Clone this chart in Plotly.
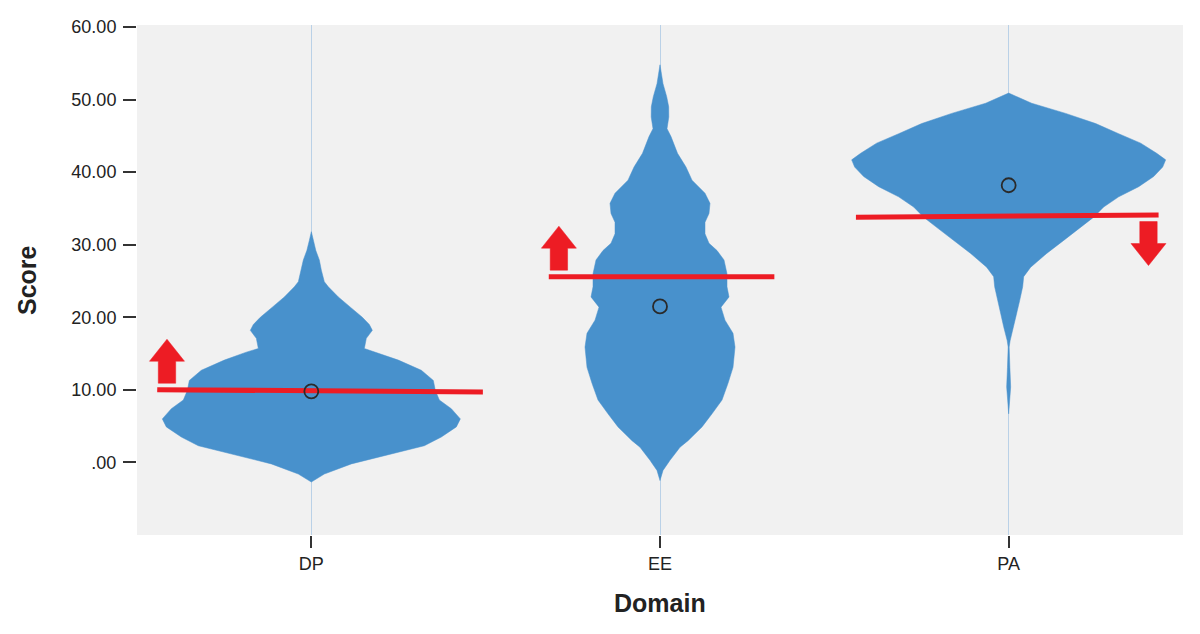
import plotly.graph_objects as go

# ---------------- data ----------------
categories = ["DP", "EE", "PA"]

# density outline: score level and half-width (density, px-equivalent units)
dp_scores = [-2.7, -1.6, -0.2, 1.2, 2.3, 3.5, 4.9, 6.0, 7.4, 8.6, 9.9, 11.3, 12.7, 14.1,
             15.2, 15.7, 17.1, 18.2, 19.0, 20.0, 21.4, 22.8, 24.2, 24.9, 26.5, 27.9,
             29.2, 30.6, 31.8]
dp_density = [0, 13, 40, 80, 113, 130, 145, 149, 140, 128, 124, 122, 110, 87,
              65, 53, 55, 61, 58, 51, 39, 27, 17, 13, 10, 8,
              4.5, 2, 0]

ee_scores = [-2.5, -1.1, 0.3, 2.1, 3.0, 4.9, 6.7, 8.6, 10.9, 13.1, 15.9, 17.8, 19.6,
             21.4, 22.8, 24.2, 26.0, 27.9, 29.2, 30.2, 31.5, 33.1, 34.3, 35.7, 37.1,
             38.9, 40.7, 42.6, 44.9, 46.0, 47.6, 49.0, 50.4, 52.2, 54.8]
ee_density = [0, 3, 10, 20, 28, 42, 52, 62, 68, 73, 75, 73, 65,
              61, 69, 67, 67, 64, 57, 49, 45, 45, 49, 50, 45,
              32, 26, 17.5, 11, 7, 8.8, 8.7, 6.7, 3, 0]

pa_scores = [6.7, 8.6, 10.4, 13.1, 15.9, 16.8, 18.7, 20.5, 22.3, 24.2, 25.6, 26.9, 28.8,
             30.6, 32.5, 33.8, 35.2, 36.6, 38.0, 39.4, 40.7, 41.7, 42.6, 44.0, 45.3,
             46.7, 48.1, 49.5, 50.9]
pa_density = [0, 1, 2, 1.2, 0.5, 1.5, 5, 8, 11, 14, 15, 22, 38,
              55, 73, 85, 95, 110, 130, 145, 154, 157, 148, 132, 110,
              87, 57, 23, 0]

means = [9.8, 21.5, 38.2]

# reference (red) lines: start/end offsets from category centre, and scores
ref_x_start = [-0.442, -0.319, -0.438]
ref_x_end = [0.492, 0.328, 0.430]
ref_y_start = [10.03, 25.6, 33.8]
ref_y_end = [9.70, 25.6, 34.1]

# direction arrows: offset from category centre and direction
arrow_offset = [-0.414, -0.290, 0.401]
arrow_dir = ["up", "up", "down"]

y_tickvals = [0, 10, 20, 30, 40, 50, 60]
y_ticktext = [".00", "10.00", "20.00", "30.00", "40.00", "50.00", "60.00"]

# ---------------- layout constants ----------------
W, H = 1200, 634
M_L, M_R, M_T, M_B = 137, 17, 25, 99
Y_MIN, Y_MAX = -10, 60.28
X_MIN, X_MAX = -0.5, 2.5
PX_PER_X = (W - M_L - M_R) / (X_MAX - X_MIN)
PX_PER_Y = (H - M_T - M_B) / (Y_MAX - Y_MIN)

VIOLIN = "#4891CC"
RED = "#ED1C24"
TEXT = "#222222"
FONT = "Liberation Sans, Arial, sans-serif"

fig = go.Figure()

profiles = [(dp_scores, dp_density), (ee_scores, ee_density), (pa_scores, pa_density)]
for i, (ys, ds) in enumerate(profiles):
    xr = [i + d / PX_PER_X for d in ds]
    xl = [i - d / PX_PER_X for d in reversed(ds)]
    fig.add_trace(go.Scatter(
        x=xr + xl, y=ys + ys[::-1], mode="lines", fill="toself",
        fillcolor=VIOLIN, line=dict(color=VIOLIN, width=0.5),
        hoverinfo="skip", showlegend=False))

# red reference lines
for i in range(3):
    fig.add_trace(go.Scatter(
        x=[i + ref_x_start[i], i + ref_x_end[i]], y=[ref_y_start[i], ref_y_end[i]],
        mode="lines", line=dict(color=RED, width=5), hoverinfo="skip", showlegend=False))

# arrows
GAP, SHAFT, TOTAL, HEAD_HW, SHAFT_HW = 6.5, 22, 44, 17.5, 8.7
for i in range(3):
    xc = i + arrow_offset[i]
    t = (arrow_offset[i] - ref_x_start[i]) / (ref_x_end[i] - ref_x_start[i])
    yl = ref_y_start[i] + t * (ref_y_end[i] - ref_y_start[i])
    s = 1 if arrow_dir[i] == "up" else -1
    y0 = yl + s * GAP / PX_PER_Y
    y1 = yl + s * (GAP + SHAFT) / PX_PER_Y
    y2 = yl + s * (GAP + TOTAL) / PX_PER_Y
    hs = SHAFT_HW / PX_PER_X
    hh = HEAD_HW / PX_PER_X
    fig.add_trace(go.Scatter(
        x=[xc - hs, xc - hs, xc - hh, xc, xc + hh, xc + hs, xc + hs, xc - hs],
        y=[y0, y1, y1, y2, y1, y1, y0, y0],
        mode="lines", fill="toself", fillcolor=RED, line=dict(color=RED, width=0.5),
        hoverinfo="skip", showlegend=False))

# mean markers
fig.add_trace(go.Scatter(
    x=list(range(len(categories))), y=means, mode="markers",
    marker=dict(symbol="circle-open", size=14, color="#2a2a2a", line=dict(width=1.8)),
    hoverinfo="skip", showlegend=False))

fig.update_layout(
    width=W, height=H,
    margin=dict(l=M_L, r=M_R, t=M_T, b=M_B, autoexpand=False),
    paper_bgcolor="white", plot_bgcolor="#F1F1F1",
    font=dict(family=FONT, size=18, color=TEXT),
    showlegend=False,
    xaxis=dict(range=[X_MIN, X_MAX], tickmode="array", tickvals=[0, 1, 2],
               ticktext=categories, ticks="outside", ticklen=12, tickwidth=1.5,
               tickcolor="#333333", showgrid=True, gridcolor="rgba(120,170,220,0.45)",
               gridwidth=1, zeroline=False, showline=False, fixedrange=True),
    yaxis=dict(range=[Y_MIN, Y_MAX], tickmode="array", tickvals=y_tickvals,
               ticktext=y_ticktext, ticks="outside", ticklen=13, tickwidth=1.5,
               tickcolor="#333333", showgrid=False, zeroline=False, showline=False,
               ticklabelstandoff=3, fixedrange=True),
    annotations=[
        dict(text="<b>Score</b>", xref="paper", yref="paper", x=0, y=0.5,
             xshift=-110, textangle=-90, showarrow=False, xanchor="center",
             yanchor="middle", font=dict(size=25, color=TEXT, family=FONT)),
        dict(text="<b>Domain</b>", xref="paper", yref="paper", x=0.5, y=0,
             yshift=-68, showarrow=False, xanchor="center", yanchor="middle",
             font=dict(size=25, color=TEXT, family=FONT)),
    ],
)

fig.write_html("out.html", config={"displayModeBar": False},
               post_script="document.body.style.margin='0';"
               "document.body.style.overflow='hidden';")
